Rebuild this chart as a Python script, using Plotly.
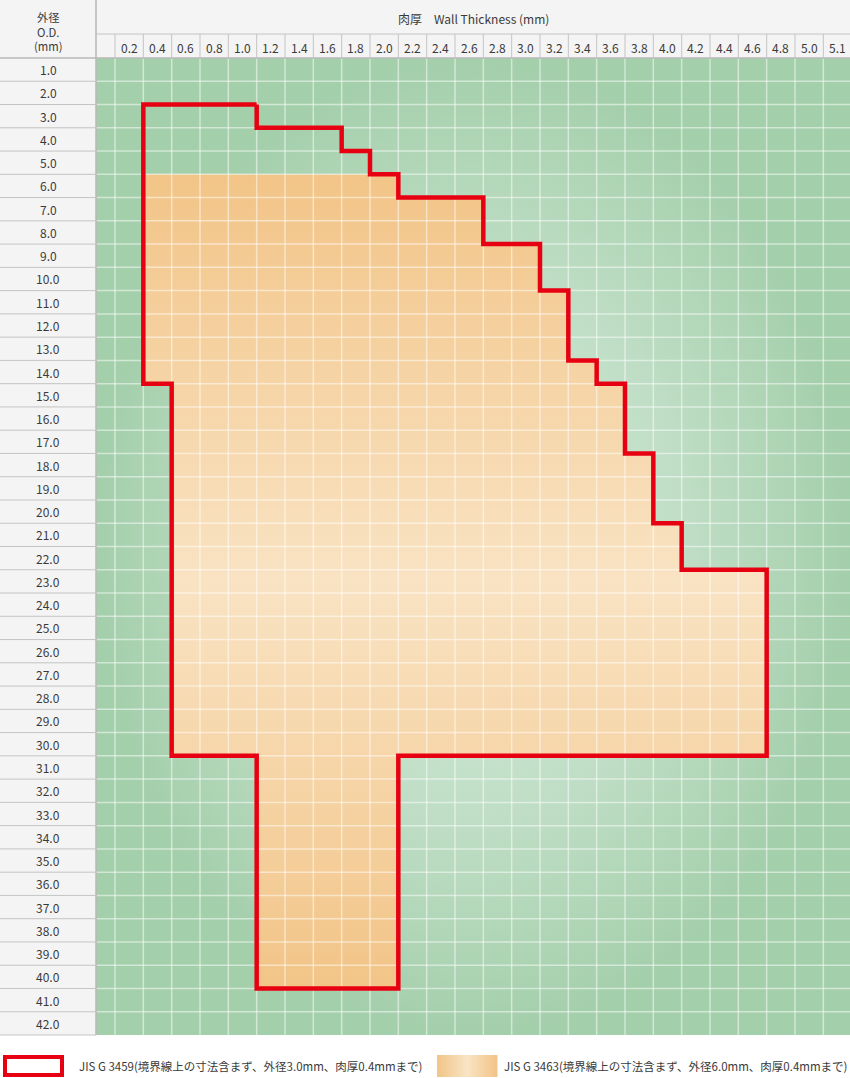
import plotly.graph_objects as go

# ---------------- data ----------------
wall_thickness = ["0.2", "0.4", "0.6", "0.8", "1.0", "1.2", "1.4", "1.6", "1.8", "2.0",
                  "2.2", "2.4", "2.6", "2.8", "3.0", "3.2", "3.4", "3.6", "3.8", "4.0",
                  "4.2", "4.4", "4.6", "4.8", "5.0", "5.1"]
outer_diameter = [f"{v}.0" for v in range(1, 43)]

# JIS G 3459 range: (O.D., min wall, max wall)
g3459_rows = [
    ("3.0", "0.4", "1.0"), ("4.0", "0.4", "1.6"), ("5.0", "0.4", "1.8"),
    ("6.0", "0.4", "2.0"), ("7.0", "0.4", "2.6"), ("8.0", "0.4", "2.6"),
    ("9.0", "0.4", "3.0"), ("10.0", "0.4", "3.0"), ("11.0", "0.4", "3.2"),
    ("12.0", "0.4", "3.2"), ("13.0", "0.4", "3.2"), ("14.0", "0.4", "3.4"),
    ("15.0", "0.6", "3.6"), ("16.0", "0.6", "3.6"), ("17.0", "0.6", "3.6"),
    ("18.0", "0.6", "3.8"), ("19.0", "0.6", "3.8"), ("20.0", "0.6", "3.8"),
    ("21.0", "0.6", "4.0"), ("22.0", "0.6", "4.0"),
    ("23.0", "0.6", "4.6"), ("24.0", "0.6", "4.6"), ("25.0", "0.6", "4.6"),
    ("26.0", "0.6", "4.6"), ("27.0", "0.6", "4.6"), ("28.0", "0.6", "4.6"),
    ("29.0", "0.6", "4.6"), ("30.0", "0.6", "4.6"),
    ("31.0", "1.2", "2.0"), ("32.0", "1.2", "2.0"), ("33.0", "1.2", "2.0"),
    ("34.0", "1.2", "2.0"), ("35.0", "1.2", "2.0"), ("36.0", "1.2", "2.0"),
    ("37.0", "1.2", "2.0"), ("38.0", "1.2", "2.0"), ("39.0", "1.2", "2.0"),
    ("40.0", "1.2", "2.0"),
]
# JIS G 3463 range (O.D. from 6.0)
g3463_rows = [r for r in g3459_rows if float(r[0]) >= 6.0]

legend_g3459 = "JIS G 3459(境界線上の寸法含まず、外径3.0mm、肉厚0.4mmまで)"
legend_g3463 = "JIS G 3463(境界線上の寸法含まず、外径6.0mm、肉厚0.4mmまで)"
x_title = "肉厚　Wall Thickness (mm)"
y_title = ["外径", "O.D.", "(mm)"]

# ---------------- geometry ----------------
W, H = 850, 1078
L, T, B = 96, 58, 43
col_px = 28.333
x0 = (L - 115) / col_px - 0.5
x1 = (W - 115) / col_px - 0.5
y0, y1 = -0.5, len(outer_diameter) - 0.5


def outline(rows):
    xs, ys = [], []
    for od, lo, hi in rows:
        r = outer_diameter.index(od)
        c = wall_thickness.index(hi)
        xs += [c + 0.5, c + 0.5]
        ys += [r - 0.5, r + 0.5]
    for od, lo, hi in reversed(rows):
        r = outer_diameter.index(od)
        c = wall_thickness.index(lo)
        xs += [c - 0.5, c - 0.5]
        ys += [r + 0.5, r - 0.5]
    xs.append(xs[0]); ys.append(ys[0])
    return xs, ys


def px2px(x):
    return (x - L) / (W - L)


def py2py(y):
    return (H - B - y) / (H - T - B)


fig = go.Figure()

# background
fig.add_trace(go.Scatter(
    x=[x0, x1, x1, x0, x0], y=[y0, y0, y1, y1, y0], mode="lines",
    line=dict(width=0), fill="toself",
    fillgradient=dict(type="radial",
                      colorscale=[[0, "#d4eada"], [0.55, "#c0dec6"], [1, "#a4cfab"]]),
    hoverinfo="skip", showlegend=False))

# JIS G 3463 fill
gx, gy = outline(g3463_rows)
fig.add_trace(go.Scatter(
    x=gx, y=gy, mode="lines", line=dict(width=0), fill="toself",
    fillgradient=dict(type="vertical",
                      colorscale=[[0, "#f2c487"], [0.5, "#f9e3c3"], [1, "#f2c487"]]),
    hoverinfo="skip", showlegend=False))

# grid lines
glx, gly = [], []
for i in range(len(wall_thickness)):
    glx += [i - 0.5, i - 0.5, None]
    gly += [y0, y1, None]
for j in range(1, len(outer_diameter)):
    glx += [x0, x1, None]
    gly += [j - 0.5, j - 0.5, None]
fig.add_trace(go.Scatter(x=glx, y=gly, mode="lines",
                         line=dict(color="rgba(255,255,255,0.5)", width=1.5),
                         hoverinfo="skip", showlegend=False))

# JIS G 3459 outline
rx, ry = outline(g3459_rows)
fig.add_trace(go.Scatter(x=rx, y=ry, mode="lines",
                         line=dict(color="#e60012", width=4.5),
                         hoverinfo="skip", showlegend=False))

shapes = []
annotations = []
border = "#c4c4c4"
text_col = "#3a3a3a"
font = "Noto Sans CJK JP"


def label(x, y, text, xref="paper", yref="paper", size=12, xanchor="center"):
    annotations.append(dict(x=x, y=y, xref=xref, yref=yref, text=text,
                            xanchor=xanchor, yanchor="middle", showarrow=False,
                            font=dict(size=size, color=text_col, family=font)))


# header background
shapes.append(dict(type="rect", xref="paper", yref="paper",
                   x0=px2px(0), x1=1, y0=1, y1=py2py(0),
                   fillcolor="#f4f4f4", line=dict(width=0), layer="below"))
shapes.append(dict(type="rect", xref="paper", yref="paper",
                   x0=px2px(0), x1=0, y0=0, y1=1,
                   fillcolor="#f4f4f4", line=dict(width=0), layer="below"))
# header lines
shapes.append(dict(type="line", xref="paper", yref="paper",
                   x0=0, x1=1, y0=py2py(34), y1=py2py(34), line=dict(color=border, width=1)))
shapes.append(dict(type="line", xref="paper", yref="paper",
                   x0=px2px(0), x1=1, y0=1, y1=1, line=dict(color="#b8b8b8", width=1.5)))
shapes.append(dict(type="line", xref="paper", yref="paper",
                   x0=0, x1=0, y0=0, y1=py2py(0), line=dict(color="#b8b8b8", width=1.5)))
shapes.append(dict(type="line", xref="paper", yref="paper",
                   x0=px2px(0), x1=0, y0=0, y1=0, line=dict(color=border, width=1)))
for i in range(len(wall_thickness)):
    shapes.append(dict(type="line", xref="x", yref="paper",
                       x0=i - 0.5, x1=i - 0.5, y0=1, y1=py2py(34),
                       line=dict(color=border, width=1)))
for j in range(1, len(outer_diameter)):
    shapes.append(dict(type="line", xref="paper", yref="y",
                       x0=px2px(0), x1=0, y0=j - 0.5, y1=j - 0.5,
                       line=dict(color=border, width=1)))

# tick labels
for i, t in enumerate(wall_thickness):
    label(i, py2py(47), t, xref="x")
for j, od in enumerate(outer_diameter):
    label(px2px(48), j, od, yref="y")
label(0.5, py2py(18), x_title)
label(px2px(48), py2py(32), "<br>".join(y_title), size=11.3)

# legend
shapes.append(dict(type="rect", xref="paper", yref="paper",
                   x0=px2px(5), x1=px2px(62), y0=py2py(1075), y1=py2py(1057),
                   line=dict(color="#e60012", width=4), fillcolor="rgba(0,0,0,0)"))
label(px2px(77), py2py(1066), legend_g3459, size=11.5, xanchor="left")
n = 24
c_edge = (242, 196, 135)
c_mid = (249, 228, 197)
for k in range(n):
    f = abs((k + 0.5) / n - 0.5) * 2
    col = tuple(round(c_mid[m] + (c_edge[m] - c_mid[m]) * f) for m in range(3))
    shapes.append(dict(type="rect", xref="paper", yref="paper",
                       x0=px2px(437 + 60 * k / n), x1=px2px(437 + 60 * (k + 1) / n + 0.5),
                       y0=py2py(1077), y1=py2py(1055),
                       fillcolor="rgb(%d,%d,%d)" % col, line=dict(width=0)))
label(px2px(502), py2py(1066), legend_g3463, size=11.5, xanchor="left")

fig.update_layout(
    width=W, height=H,
    margin=dict(l=L, r=0, t=T, b=B, pad=0),
    paper_bgcolor="white", plot_bgcolor="white",
    xaxis=dict(range=[x0, x1], showgrid=False, zeroline=False, showticklabels=False,
               ticks="", fixedrange=True),
    yaxis=dict(range=[y1, y0], showgrid=False, zeroline=False, showticklabels=False,
               ticks="", fixedrange=True),
    shapes=shapes, annotations=annotations, showlegend=False,
    font=dict(family=font),
)

fig.write_html("out.html", config={"displayModeBar": False, "staticPlot": True})
